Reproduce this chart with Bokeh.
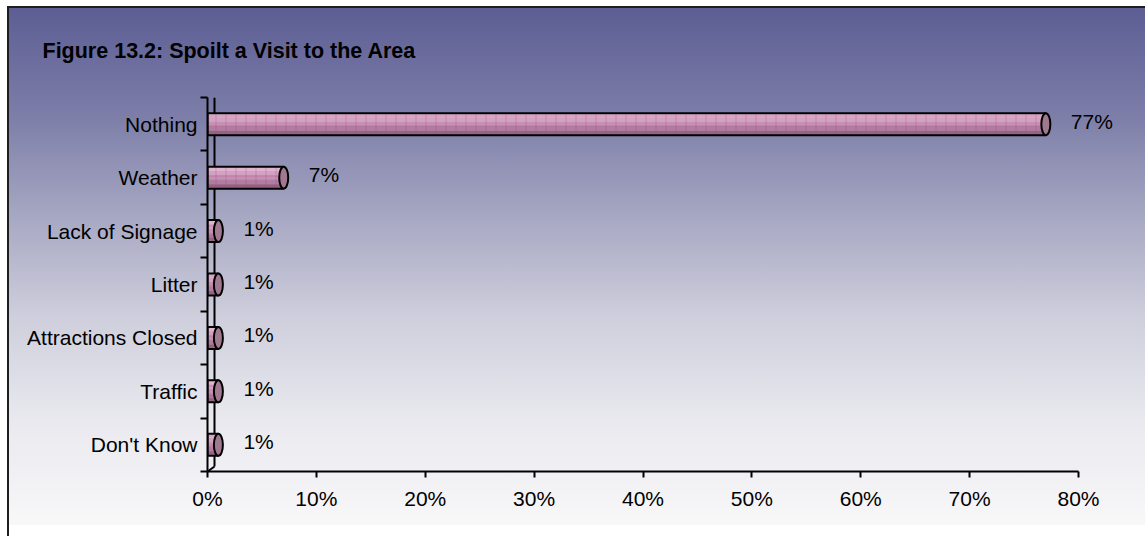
from bokeh.plotting import figure
from bokeh.models import ColumnDataSource, Range1d, LinearAxis, FixedTicker, LabelSet
from bokeh.core.properties import value
from bokeh.transform import dodge
from bokeh.embed import file_html
from bokeh.resources import INLINE

# ---- data -------------------------------------------------------------
title_text = "Figure 13.2: Spoilt a Visit to the Area"
categories = ["Nothing", "Weather", "Lack of Signage", "Litter",
              "Attractions Closed", "Traffic", "Don't Know"]
percent = [77, 7, 1, 1, 1, 1, 1]
x_ticks = [0, 10, 20, 30, 40, 50, 60, 70, 80]
x_tick_labels = ["0%", "10%", "20%", "30%", "40%", "50%", "60%", "70%", "80%"]

# ---- layout / style ---------------------------------------------------
W, H = 1145, 536
LEFT, AXIS_RIGHT, TOP, BOTTOM = 207, 1078, 97, 471
FRAME_RIGHT = 1130
FONT = "Liberation Sans"
n = len(categories)
px_per_y = (BOTTOM - TOP) / n
px_per_x = (AXIS_RIGHT - LEFT) / (x_ticks[-1] - x_ticks[0])
x_end = x_ticks[-1] + (FRAME_RIGHT - AXIS_RIGHT) / px_per_x   # room for value labels
BAR_PX = 22
bar_h = BAR_PX / px_per_y

ypos = [n - 0.5 - i for i in range(n)]
src = ColumnDataSource(dict(cat=categories, pct=percent, y=ypos,
                            label=[f"{v}%" for v in percent]))

p = figure(width=W, height=H, output_backend="svg", toolbar_location=None,
           x_range=Range1d(x_ticks[0], x_end), y_range=Range1d(0, n),
           x_axis_location=None, y_axis_location=None,
           min_border_left=LEFT, min_border_right=W - FRAME_RIGHT,
           min_border_top=TOP, min_border_bottom=H - BOTTOM,
           background_fill_color=None, border_fill_color=None,
           outline_line_color=None)
p.grid.visible = False

# page backdrop: dark frame edge on the left/top and a blue-grey to white fade
dark = "linear-gradient(#1e1e1e, #1e1e1e)"
fade = ("linear-gradient(to bottom, #5c5e94 0%, #7b7ca7 20%, #a6a7c2 40%, "
        "#cfcfdd 60%, #e9e9ef 80%, #f8f8f9 100%)")
p.styles = {
    "background-color": "white",
    "background-image": f"{dark}, {dark}, {fade}",
    "background-position": "7px 6px, 7px 6px, 9px 8px",
    "background-size": "2px 530px, 1138px 2px, 1136px 517px",
    "background-repeat": "no-repeat, no-repeat, no-repeat",
}

# title
p.title.text = title_text
p.title.text_font = FONT
p.title.text_font_size = "21.5px"
p.title.text_font_style = "bold"
p.title.text_color = "black"
p.title.align = "left"
p.title.offset = 42 - LEFT
p.title.standoff = 70

# back wall of the 3-D plot area
wall_x = 7 / px_per_x
wall_dy = 5 / px_per_y
p.segment(x0=[wall_x], y0=[wall_dy], x1=[wall_x], y1=[n], line_color="black", line_width=2)
p.segment(x0=[0], y0=[0], x1=[wall_x], y1=[wall_dy], line_color="black", line_width=2)

# cylinder bodies: shaded bands from light (top) to dark (bottom)
shades = ["#e0b4d0", "#d3a2c2", "#c590b3", "#b07c9f", "#946484"]
p.hbar(y="y", left=0, right="pct", height=bar_h, source=src,
       fill_color=shades[2], line_color=None)
for j, c in enumerate(shades):
    off = bar_h * (0.4 - 0.2 * j)
    p.hbar(y=dodge("y", off), left=0, right="pct", height=bar_h / 5 + 0.002,
           source=src, fill_color=c, line_color=None)
p.hbar(y="y", left=0, right="pct", height=bar_h, source=src,
       fill_alpha=0, hatch_pattern="+", hatch_color="#a8407a", hatch_alpha=0.3,
       hatch_scale=10, hatch_weight=1, line_color="black", line_width=2)
# cylinder end caps
p.ellipse(x="pct", y="y", width=9, height=BAR_PX, width_units="screen",
          height_units="screen", source=src, fill_color="#a07890",
          line_color="black", line_width=2)

# value labels
p.add_layout(LabelSet(x="pct", y="y", text="label", source=src, x_offset=25, y_offset=3,
                      text_font=value(FONT), text_font_size=value("21px"),
                      text_color="black", text_baseline="middle", text_align="left"))

# axes
xaxis = LinearAxis(ticker=FixedTicker(ticks=x_ticks, minor_ticks=[]),
                   major_label_overrides=dict(zip(x_ticks, x_tick_labels)),
                   bounds=(x_ticks[0], x_ticks[-1]))
yaxis = LinearAxis(ticker=FixedTicker(ticks=ypos, minor_ticks=list(range(n + 1))),
                   major_label_overrides=dict(zip(ypos, categories)))
for ax in (xaxis, yaxis):
    ax.axis_line_color = "black"
    ax.axis_line_width = 2
    ax.major_label_text_font = FONT
    ax.major_label_text_font_size = "21px"
    ax.major_label_text_color = "black"
xaxis.major_tick_in = 0
xaxis.major_tick_out = 6
xaxis.major_tick_line_width = 2
xaxis.minor_tick_line_color = None
xaxis.major_label_standoff = 9
yaxis.major_tick_line_color = None
yaxis.major_tick_in = 0
yaxis.major_tick_out = 0
yaxis.minor_tick_in = 0
yaxis.minor_tick_out = 7
yaxis.minor_tick_line_width = 2
yaxis.minor_tick_line_color = "black"
yaxis.major_label_standoff = 3
p.add_layout(xaxis, "below")
p.add_layout(yaxis, "left")

open("out.html", "w").write(file_html(p, INLINE))
